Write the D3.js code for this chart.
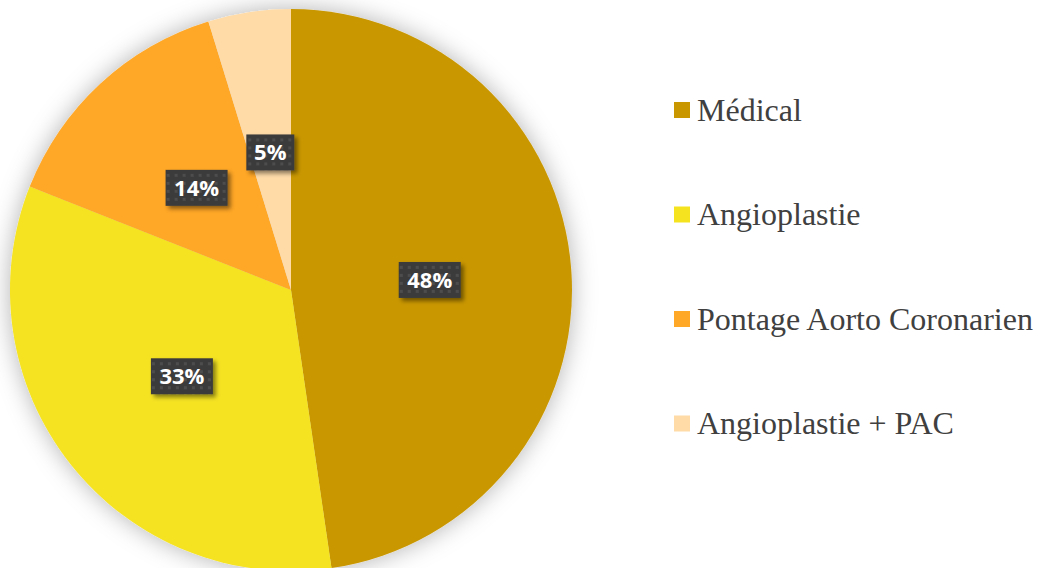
<!DOCTYPE html>
<html>
<head>
<meta charset="utf-8">
<script src="https://cdn.jsdelivr.net/npm/d3@7"></script>
<style>
  body { margin: 0; background: #fff; }
  svg { display: block; }
</style>
</head>
<body>
<div id="chart"></div>
<script>
var categories = ["Médical", "Angioplastie", "Pontage Aorto Coronarien", "Angioplastie + PAC"];
var values = [47.7, 33.3, 14.25, 4.75];
var colors = ["#C99700", "#F5E320", "#FFA726", "#FFDBA8"];

(function() {
  var width = 1042,
    height = 568;

  var cx = 291, cy = 290, radius = 281;

  var svg = d3.select("#chart")
    .append("svg")
    .attr("width", width)
    .attr("height", height);

  var defs = svg.append("defs");

  // soft shadow around the pie
  var f = defs.append("filter").attr("id", "pieShadow")
    .attr("x", "-20%").attr("y", "-20%").attr("width", "140%").attr("height", "140%");
  f.append("feDropShadow")
    .attr("dx", 0).attr("dy", 0)
    .attr("stdDeviation", 12)
    .attr("flood-color", "#000")
    .attr("flood-opacity", 0.3);

  // label box shadow
  var f2 = defs.append("filter").attr("id", "boxShadow")
    .attr("x", "-30%").attr("y", "-30%").attr("width", "160%").attr("height", "160%");
  f2.append("feDropShadow")
    .attr("dx", 3).attr("dy", 3)
    .attr("stdDeviation", 2)
    .attr("flood-color", "#000")
    .attr("flood-opacity", 0.45);

  // dotted texture of the label boxes
  var pat = defs.append("pattern").attr("id", "dots")
    .attr("patternUnits", "userSpaceOnUse")
    .attr("width", 8).attr("height", 8);
  pat.append("rect").attr("width", 8).attr("height", 8).attr("fill", "#3b3b3b");
  pat.append("rect").attr("x", 2).attr("y", 2).attr("width", 3).attr("height", 3).attr("fill", "#4d4d4d");

  var data = categories.map(function(c, i) {
    return { name: c, value: values[i], color: colors[i] };
  });

  var pie = d3.pie()
    .sort(null)
    .value(function(d) { return d.value; });

  var arc = d3.arc().innerRadius(0).outerRadius(radius);
  var labelArc = d3.arc().innerRadius(radius * 0.495).outerRadius(radius * 0.495);

  var g = svg.append("g")
    .attr("transform", "translate(" + cx + "," + cy + ")");

  var arcs = pie(data);

  g.append("g")
    .attr("filter", "url(#pieShadow)")
    .selectAll("path")
    .data(arcs)
    .enter().append("path")
    .attr("d", arc)
    .attr("fill", function(d) { return d.data.color; });

  var total = d3.sum(values);

  var labels = g.selectAll(".lbl")
    .data(arcs)
    .enter().append("g")
    .attr("class", "lbl")
    .attr("transform", function(d) {
      var p = labelArc.centroid(d);
      return "translate(" + p[0] + "," + p[1] + ")";
    });

  labels.append("rect")
    .attr("x", function(d) { return d.data.value < 10 ? -24 : -31; })
    .attr("y", -18)
    .attr("width", function(d) { return d.data.value < 10 ? 48 : 62; })
    .attr("height", 36)
    .attr("fill", "url(#dots)")
    .attr("filter", "url(#boxShadow)");

  labels.append("text")
    .text(function(d) { return Math.round(d.data.value / total * 100) + "%"; })
    .attr("text-anchor", "middle")
    .attr("dy", "0.36em")
    .attr("fill", "#fff")
    .attr("font-family", "Open Sans")
    .attr("font-weight", "bold")
    .attr("font-size", 22);

  // legend
  var legendY = d3.scalePoint()
    .domain(categories)
    .range([110, 423.5]);

  var legend = svg.selectAll(".legend")
    .data(data)
    .enter().append("g")
    .attr("class", "legend")
    .attr("transform", function(d) { return "translate(674," + legendY(d.name) + ")"; });

  legend.append("rect")
    .attr("x", 0)
    .attr("y", -8)
    .attr("width", 16)
    .attr("height", 16)
    .attr("fill", function(d) { return d.color; });

  legend.append("text")
    .text(function(d) { return d.name; })
    .attr("x", 23)
    .attr("dy", "0.33em")
    .attr("fill", "#404040")
    .attr("font-family", "Liberation Serif")
    .attr("font-size", 32);
})();
</script>
</body>
</html>
